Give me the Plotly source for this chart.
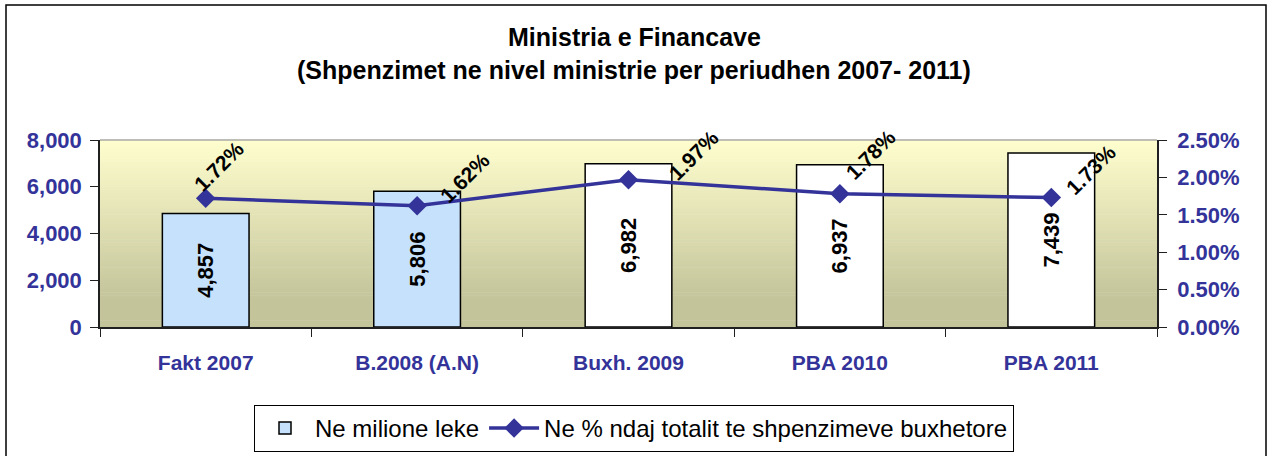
import plotly.graph_objects as go

categories = ["Fakt 2007", "B.2008 (A.N)", "Buxh. 2009", "PBA 2010", "PBA 2011"]
spending = [4857, 5806, 6982, 6937, 7439]
share_pct = [1.72, 1.62, 1.97, 1.78, 1.73]
left_ticks = [0, 2000, 4000, 6000, 8000]
right_ticks = [0, 0.005, 0.01, 0.015, 0.02, 0.025]

title_line1 = "Ministria e Financave"
title_line2 = "(Shpenzimet ne nivel ministrie per periudhen 2007- 2011)"
bar_name = "Ne milione leke"
line_name = "Ne % ndaj totalit te shpenzimeve buxhetore"

# styling
bar_colors = ["#C6E1FB", "#C6E1FB", "#FFFFFF", "#FFFFFF", "#FFFFFF"]
label_shift = [(13, 32), (48, 28), (65, 24), (31, 39), (40, 28)]  # pixel offsets of % labels

FONT = "Liberation Sans, Arial, sans-serif"
NAVY = "#333399"

W, H = 1268, 456
PL, PR, PT, PB = 100, 1157, 140, 327  # plot area in page pixels
ML, MT = PL, PT
MR, MB = W - PR, H - PB
pw, ph = PR - PL, PB - PT


def px_x(px):
    return (px - PL) / pw


def px_y(py):
    return (PB - py) / ph


fig = go.Figure()

fig.add_trace(go.Bar(
    x=categories, y=spending, name=bar_name,
    marker=dict(color=bar_colors, line=dict(color="black", width=1.5)),
    text=[f"{v:,}" for v in spending], textposition="inside",
    insidetextanchor="middle", textangle=-90,
    textfont=dict(family=FONT, size=22, color="black", weight="bold"),
    constraintext="none",
    width=0.41, yaxis="y",
))

fig.add_trace(go.Scatter(
    x=categories, y=[v / 100 for v in share_pct], name=line_name,
    mode="lines+markers", yaxis="y2",
    line=dict(color=NAVY, width=3.5),
    marker=dict(symbol="diamond", size=15, color=NAVY),
))

annotations = []
for c, v, (dx, dy) in zip(categories, share_pct, label_shift):
    annotations.append(dict(
        x=c, y=v / 100, xref="x", yref="y2", text=f"{v:.2f}%",
        textangle=-45, showarrow=False, xanchor="center", yanchor="middle",
        xshift=dx, yshift=dy,
        font=dict(family=FONT, size=21, color="black", weight="bold"),
    ))

for txt, py in ((title_line1, 37), (title_line2, 70)):
    annotations.append(dict(text=txt, x=px_x(634), xref="paper", y=px_y(py),
                            yref="paper", showarrow=False, xanchor="center",
                            yanchor="middle",
                            font=dict(family=FONT, size=25, color="black", weight="bold")))

# gradient background of plot area
shapes = []
N = 60
top = (254, 254, 206)
bot = (196, 196, 155)
for i in range(N):
    t0 = i / N
    t1 = (i + 1) / N
    f = min(1.0, (1 - (t0 + t1) / 2) / 0.85)
    col = tuple(round(top[k] + (bot[k] - top[k]) * f) for k in range(3))
    shapes.append(dict(type="rect", xref="x domain", yref="y domain",
                       x0=0, x1=1, y0=t0, y1=t1 + 0.003, layer="below",
                       line=dict(width=0), fillcolor=f"rgb{col}"))
# top border of plot area
shapes.append(dict(type="line", xref="x domain", yref="y domain", x0=0, x1=1, y0=1, y1=1,
                   line=dict(color="#A8A8A8", width=1.5), layer="above"))
# outer chart border
shapes.append(dict(type="rect", xref="paper", yref="paper",
                   x0=px_x(6), x1=px_x(1266),
                   y0=px_y(470), y1=px_y(5),
                   line=dict(color="black", width=1.5), fillcolor="rgba(0,0,0,0)",
                   layer="below"))

fig.update_layout(
    width=W, height=H,
    margin=dict(l=ML, r=MR, t=MT, b=MB, autoexpand=False),
    paper_bgcolor="white", plot_bgcolor="rgba(0,0,0,0)",
    font=dict(family=FONT),
    showlegend=True,
    legend=dict(orientation="h", x=px_x(634), xanchor="center",
                y=px_y(405), yanchor="top",
                bgcolor="white", bordercolor="black", borderwidth=1,
                font=dict(family=FONT, size=24, color="black"),
                itemwidth=50, tracegroupgap=0),
    xaxis=dict(showline=True, linecolor="#202020", linewidth=1.5,
               ticks="outside", tickson="boundaries", ticklen=8, tickcolor="#202020",
               tickfont=dict(family=FONT, size=21, color=NAVY, weight="bold"),
               ticklabelstandoff=16, showgrid=False),
    yaxis=dict(range=[0, 8000], tickvals=left_ticks, tickformat=",d",
               showline=True, linecolor="#202020", linewidth=1.5,
               ticks="outside", ticklen=8, tickcolor="#202020",
               tickfont=dict(family=FONT, size=22, color=NAVY, weight="bold"),
               ticklabelstandoff=4, showgrid=False, zeroline=False),
    yaxis2=dict(range=[0, 0.025], tickvals=right_ticks, tickformat=".2%",
                overlaying="y", side="right",
                showline=True, linecolor="#202020", linewidth=1.5,
                ticks="outside", ticklen=8, tickcolor="#202020",
                tickfont=dict(family=FONT, size=22, color=NAVY, weight="bold"),
                ticklabelstandoff=6, showgrid=False, zeroline=False),
    annotations=annotations,
    shapes=shapes,
)

fig.write_html("out.html",
               config={"displayModeBar": False},
               post_script="document.body.style.margin='0px';document.body.style.overflow='hidden';")
